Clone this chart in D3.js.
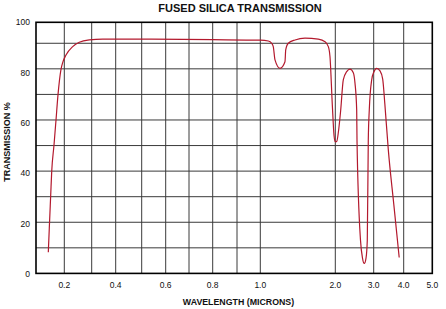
<!DOCTYPE html>
<html>
<head>
<meta charset="utf-8">
<script src="https://cdn.jsdelivr.net/npm/d3@7"></script>
<style>
  body { margin: 0; background: #fff; }
  svg { display: block; font-family: "Liberation Sans", Arial, Helvetica, sans-serif; }
</style>
</head>
<body>
<svg width="446" height="309"></svg>
<script>
// Data (wavelength in microns, transmission in %)
const wavelength = [
    0.1435, 0.147, 0.152, 0.1555, 0.1636, 0.1707, 0.1777, 0.188, 0.1954, 0.2062,
    0.2306, 0.2547, 0.2912, 0.3458, 0.5, 0.8, 1.0, 1.107, 1.152, 1.173,
    1.196, 1.263, 1.329, 1.339, 1.373, 1.463, 1.596, 1.773, 1.863, 1.907,
    1.929, 1.96, 1.983, 2.0, 2.036, 2.078, 2.141, 2.208, 2.297, 2.383,
    2.469, 2.513, 2.557, 2.565, 2.656, 2.708, 2.755, 2.8, 2.833, 2.859,
    2.885, 2.948, 3.01, 3.1, 3.21, 3.3, 3.37, 3.487, 3.67, 3.85
]
const transmission = [
    8.3, 17.7, 30.7, 39.8, 50.2, 60, 69.8, 79.6, 82.8, 85.4,
    88.7, 90.4, 91.3, 91.6, 91.6, 91.4, 91.2, 90.9, 90, 88.7,
    83.5, 80.2, 82.8, 87.4, 90, 91.3, 92, 91.6, 90.6, 88.7,
    84.8, 66, 54, 51.5, 51.5, 55, 63.9, 75.7, 78.9, 79.9,
    78.5, 74.4, 63.9, 52.2, 13, 6, 3.9, 6, 13, 52.2,
    63.9, 75.7, 78.9, 80.2, 79.2, 76, 66.5, 48.3, 27, 6.2
]

const xGrid = [0.2, 0.3, 0.4, 0.5, 0.6, 0.7, 0.8, 0.9, 1.0, 2.0, 3.0, 4.0]
const xTickLabels = ['0.2', '0.4', '0.6', '0.8', '1.0', '2.0', '3.0', '4.0', '5.0']
const yGrid = [10, 20, 30, 40, 50, 60, 70, 80, 90]
const yTickLabels = ['0', '20', '40', '60', '80', '100']

// Set up
const svg = d3.select('svg')
const margin = {top: 22.3, right: 13.7, bottom: 35.6, left: 36}
const width = 446 - margin.left - margin.right
const height = 309 - margin.top - margin.bottom

// the printed axis is linear up to 1.0 then squeezed - calibrate piecewise
const xBreaks = [0.1, 0.2, 0.3, 0.4, 0.5, 0.6, 0.7, 0.8, 0.9, 1, 2, 3, 4, 5]
const xBreakPx = [0, 28.3, 55.7, 79.7, 105.7, 129.7, 153, 176.7, 201, 224.3, 299.3, 337.7, 367.7, 396.3]
const x = d3.scaleLinear()
    .domain(xBreaks)
    .range(xBreakPx.map(p => p / 396.3 * width))

const y = d3.scaleLinear().domain([0, 98.2]).range([height, 0])
// tick labels sit on a slightly different spacing than the grid
const yLabel = d3.scaleLinear().domain([0, 100]).range([height + 0.8, 0])

const g = svg.append('g').attr('transform', `translate(${margin.left},${margin.top})`)

// grid
g.append('g')
    .selectAll('line')
    .data(xGrid)
    .join('line')
    .attr('x1', d => x(d))
    .attr('x2', d => x(d))
    .attr('y1', 0)
    .attr('y2', height)
    .attr('stroke', '#3a3a3a')
    .attr('stroke-width', 1)

g.append('g')
    .selectAll('line')
    .data(yGrid)
    .join('line')
    .attr('x1', 0)
    .attr('x2', width)
    .attr('y1', d => y(d))
    .attr('y2', d => y(d))
    .attr('stroke', '#3a3a3a')
    .attr('stroke-width', 1)

// frame
g.append('rect')
    .attr('width', width)
    .attr('height', height)
    .attr('fill', 'none')
    .attr('stroke', '#000')
    .attr('stroke-width', 1.6)

// curve
const points = wavelength.map((w, i) => [w, transmission[i]])
g.append('path')
    .datum(points)
    .attr('fill', 'none')
    .attr('stroke', '#b3192d')
    .attr('stroke-width', 1.2)
    .attr('d', d3.line()
        .x(d => x(d[0]))
        .y(d => y(d[1]))
        .curve(d3.curveMonotoneX))

// tick labels
g.append('g')
    .selectAll('text')
    .data(xTickLabels)
    .join('text')
    .attr('x', d => x(+d))
    .attr('y', height + 14.6)
    .attr('text-anchor', 'middle')
    .attr('font-size', 8.5)
    .attr('fill', '#111')
    .text(d => d)

g.append('g')
    .selectAll('text')
    .data(yTickLabels)
    .join('text')
    .attr('x', -6)
    .attr('y', d => yLabel(+d))
    .attr('dy', '0.35em')
    .attr('text-anchor', 'end')
    .attr('font-size', 8.5)
    .attr('fill', '#111')
    .text(d => d)

// titles
svg.append('text')
    .attr('x', 240)
    .attr('y', 12)
    .attr('text-anchor', 'middle')
    .attr('font-size', 11)
    .attr('font-weight', 'bold')
    .attr('fill', '#111')
    .text('FUSED SILICA TRANSMISSION')

svg.append('text')
    .attr('x', 238.5)
    .attr('y', 305)
    .attr('text-anchor', 'middle')
    .attr('font-size', 8.8)
    .attr('font-weight', 'bold')
    .attr('fill', '#111')
    .text('WAVELENGTH (MICRONS)')

svg.append('text')
    .attr('transform', 'translate(9.5,142) rotate(-90)')
    .attr('text-anchor', 'middle')
    .attr('font-size', 9)
    .attr('font-weight', 'bold')
    .attr('fill', '#111')
    .text('TRANSMISSION %')
</script>
</body>
</html>
